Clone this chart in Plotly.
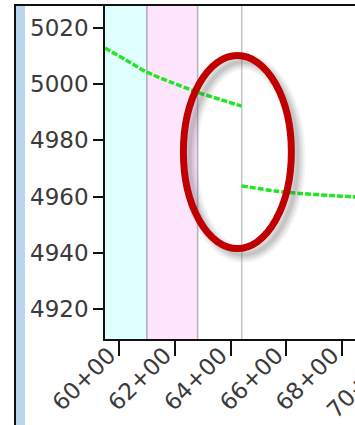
import plotly.graph_objects as go

# Profile elevations along the alignment (station in feet, elevation in feet)
station_ft_1 = [5950, 6025, 6100, 6190, 6280, 6362, 6440]
elev_1 = [5012.9, 5008.6, 5004.3, 5000.6, 4997.2, 4994.6, 4992.2]
station_ft_2 = [6440, 6559, 6649, 6756, 6860]
elev_2 = [4963.8, 4962.0, 4961.1, 4960.4, 4959.8]

# Station tick positions and labels
tick_ft = [6000, 6200, 6400, 6600, 6800]
tick_text = ["60+00", "62+00", "64+00", "66+00", "68+00"]
next_tick_text = "70+00"

# Highlighted station bands and break line
band_cyan = (5950, 6100)
band_pink = (6100, 6282)
break_ft = 6440

# Callout ellipse around the profile break (station, elevation)
callout_x = (6231, 6618)
callout_y = (4941.5, 5010.2)

x_range = [5950, 6846]
y_range = [4909.3, 5028.2]

FONT = "DejaVu Sans"
TXT = "#3a3a3a"

fig = go.Figure()

fig.add_trace(go.Scatter(
    x=station_ft_1 + [None] + station_ft_2,
    y=elev_1 + [None] + elev_2,
    mode="lines",
    line=dict(color="#22e622", width=3.5, dash="6px,2px", shape="spline", smoothing=0.8),
    connectgaps=False,
    showlegend=False,
    hoverinfo="skip",
))

shapes = []
# station bands
shapes.append(dict(type="rect", xref="x", yref="paper", x0=band_cyan[0], x1=band_cyan[1],
                   y0=0, y1=1, fillcolor="#e0ffff", line=dict(width=0), layer="below"))
shapes.append(dict(type="rect", xref="x", yref="paper", x0=band_pink[0], x1=band_pink[1],
                   y0=0, y1=1, fillcolor="#fde5fb", line=dict(width=0), layer="below"))
for xv, col in [(band_pink[0], "#b4a8bc"), (band_pink[1], "#bcaec4"), (break_ft, "#c6c6c6")]:
    shapes.append(dict(type="line", xref="x", yref="paper", x0=xv, x1=xv, y0=0, y1=1,
                       line=dict(color=col, width=1.5), layer="below"))

# soft drop shadow under the callout ellipse
dx, dy = 22, -2.2
for w, op in [(16, 0.06), (12, 0.08), (8, 0.1), (4, 0.12)]:
    shapes.append(dict(type="circle", xref="x", yref="y",
                       x0=callout_x[0] + dx, x1=callout_x[1] + dx,
                       y0=callout_y[0] + dy, y1=callout_y[1] + dy,
                       line=dict(color="#555555", width=w), opacity=op))
shapes.append(dict(type="circle", xref="x", yref="y",
                   x0=callout_x[0], x1=callout_x[1], y0=callout_y[0], y1=callout_y[1],
                   line=dict(color="#c00000", width=7)))

# outer panel frame
shapes.append(dict(type="rect", xref="paper", yref="paper", x0=-0.356, x1=-0.32,
                   y0=-0.3, y1=1.0, fillcolor="#bcd5ee", line=dict(width=0)))
shapes.append(dict(type="line", xref="paper", yref="paper", x0=-0.36, x1=-0.36,
                   y0=-0.3, y1=1.0, line=dict(color="#111111", width=2)))
shapes.append(dict(type="line", xref="paper", yref="paper", x0=-0.364, x1=1.05,
                   y0=1.0, y1=1.0, line=dict(color="#111111", width=2)))

fig.update_layout(
    width=355, height=425,
    margin=dict(l=105, r=0, t=5, b=86, pad=0),
    template="none",
    paper_bgcolor="white",
    plot_bgcolor="white",
    shapes=shapes,
    showlegend=False,
    font=dict(family=FONT, size=23, color=TXT),
)

fig.update_xaxes(
    range=x_range, autorange=False, automargin=False,
    tickmode="array", tickvals=tick_ft, ticktext=tick_text, tickangle=-45,
    ticklabelstandoff=-23, ticklabelshift=-10,
    showline=True, linecolor="#111111", linewidth=1.5,
    ticks="outside", ticklen=15, tickwidth=1.5, tickcolor="#111111",
    showgrid=False, zeroline=False,
    tickfont=dict(family=FONT, size=23, color=TXT),
)
fig.update_yaxes(
    range=y_range, autorange=False, automargin=False,
    tickmode="array", tickvals=[4920, 4940, 4960, 4980, 5000, 5020],
    showline=True, linecolor="#111111", linewidth=1.5,
    ticks="outside", ticklen=10, tickwidth=1.5, tickcolor="#111111",
    showgrid=False, zeroline=False,
    tickfont=dict(family=FONT, size=23, color=TXT),
)

# label of the next station, partly beyond the right edge
fig.add_annotation(
    xref="paper", yref="paper", x=(398 - 105) / 250, y=(339 - 346) / 334,
    text=next_tick_text, textangle=-45, showarrow=False,
    xanchor="right", yanchor="top",
    font=dict(family=FONT, size=23, color=TXT),
)

fig.write_html("out.html")
